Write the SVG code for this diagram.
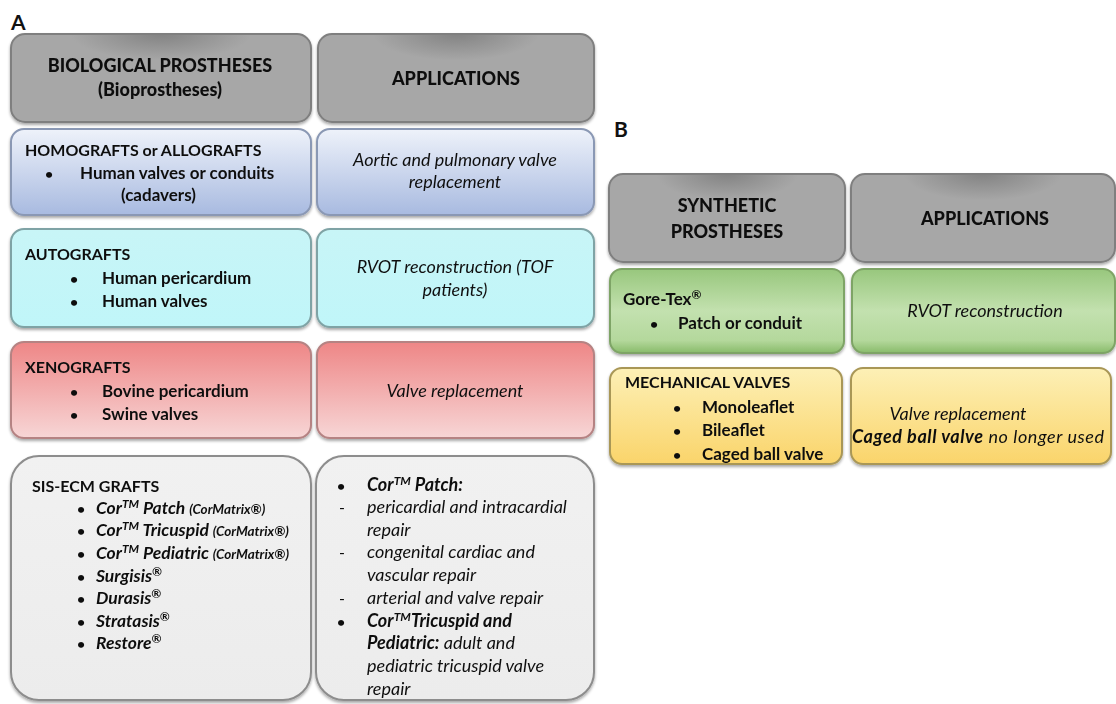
<svg xmlns="http://www.w3.org/2000/svg" width="1116" height="704" viewBox="0 0 1116 704">
<defs>
<radialGradient id="gHead" cx="0.5" cy="0" r="0.3" fx="0.5" fy="0">
<stop offset="0" stop-color="#838383"/><stop offset="0.55" stop-color="#979797"/><stop offset="1" stop-color="#a7a7a7"/>
</radialGradient>
<linearGradient id="gBlue" x1="0" y1="0" x2="0" y2="1">
<stop offset="0" stop-color="#eef2fa"/><stop offset="1" stop-color="#a8bae0"/>
</linearGradient>
<linearGradient id="gCyan" x1="0" y1="0" x2="0" y2="1">
<stop offset="0" stop-color="#c8f5f7"/><stop offset="1" stop-color="#c0f6f9"/>
</linearGradient>
<linearGradient id="gRed" x1="0" y1="0" x2="0" y2="1">
<stop offset="0" stop-color="#ee8686"/><stop offset="1" stop-color="#f7d6d6"/>
</linearGradient>
<linearGradient id="gGray" x1="0" y1="0" x2="0" y2="1">
<stop offset="0" stop-color="#f1f1f1"/><stop offset="1" stop-color="#ececec"/>
</linearGradient>
<linearGradient id="gGreen" x1="0" y1="0" x2="0" y2="1">
<stop offset="0" stop-color="#98c77d"/><stop offset="0.5" stop-color="#c3e1af"/><stop offset="0.85" stop-color="#b4d89c"/><stop offset="1" stop-color="#88bb6a"/>
</linearGradient>
<linearGradient id="gYellow" x1="0" y1="0" x2="0" y2="1">
<stop offset="0" stop-color="#fdf0b6"/><stop offset="1" stop-color="#fad46a"/>
</linearGradient>
<filter id="sh" x="-5%" y="-5%" width="110%" height="115%">
<feGaussianBlur in="SourceAlpha" stdDeviation="1.5"/><feOffset dx="0" dy="2" result="b"/>
<feComponentTransfer><feFuncA type="linear" slope="0.35"/></feComponentTransfer>
<feMerge><feMergeNode/><feMergeNode in="SourceGraphic"/></feMerge>
</filter>
</defs>
<style>
text{font-family:Lato,"Open Sans","Liberation Sans",sans-serif;fill:#111;}
.b{font-weight:bold;font-size:16px;}
.bl2{font-weight:bold;font-size:17px;}
.h{font-weight:900;font-size:18px;text-anchor:middle;}
.i{font-style:italic;font-size:18px;}
.c{text-anchor:middle;}
.bi{font-weight:bold;font-style:italic;font-size:17.5px;}
.bi2{font-weight:bold;font-style:italic;font-size:18px;}
.sm{font-size:13.5px;}
.sup{font-size:12px;}
.bu{font-weight:bold;font-size:14px;text-anchor:middle;}
.da{font-size:16px;text-anchor:middle;}
.lab{font-weight:bold;font-size:21px;}
.hd{fill:url(#gHead);stroke:#7f7f7f;stroke-width:2;}
.bl{fill:url(#gBlue);stroke:#8a98b4;stroke-width:2;}
.cy{fill:url(#gCyan);stroke:#7fa3a5;stroke-width:2;}
.rd{fill:url(#gRed);stroke:#b58383;stroke-width:2;}
.gy{fill:url(#gGray);stroke:#8d8d8d;stroke-width:2;}
.gr{fill:url(#gGreen);stroke:#7ea466;stroke-width:2;}
.ye{fill:url(#gYellow);stroke:#a99757;stroke-width:2;}
</style>

<text class="lab" x="11" y="30">A</text>
<text class="lab" x="614" y="137">B</text>

<g id="a-head-bio" filter="url(#sh)">
<rect class="hd" x="11" y="34" width="300" height="88" rx="14"/>
<text class="h" x="160" y="72">BIOLOGICAL PROSTHESES</text>
<text class="h" x="160" y="96">(Bioprostheses)</text>
</g>
<g id="a-head-app" filter="url(#sh)">
<rect class="hd" x="318" y="34" width="276" height="88" rx="14"/>
<text class="h" x="456" y="85">APPLICATIONS</text>
</g>

<g id="a-homografts" filter="url(#sh)">
<rect class="bl" x="11" y="129" width="300" height="86" rx="13"/>
<text class="b" x="25" y="156">HOMOGRAFTS or ALLOGRAFTS</text>
<text class="bu" x="49" y="179">•</text>
<text class="bl2" x="80" y="179">Human valves or conduits</text>
<text class="bl2" x="121" y="201">(cadavers)</text>
</g>
<g id="a-homografts-app" filter="url(#sh)">
<rect class="bl" x="317" y="129" width="277" height="86" rx="13"/>
<text class="i c" x="455" y="166">Aortic and pulmonary valve</text>
<text class="i c" x="455" y="188">replacement</text>
</g>

<g id="a-autografts" filter="url(#sh)">
<rect class="cy" x="11" y="229" width="300" height="98" rx="13"/>
<text class="b" x="25" y="260">AUTOGRAFTS</text>
<text class="bu" x="74" y="284">•</text>
<text class="bl2" x="102" y="284">Human pericardium</text>
<text class="bu" x="74" y="307">•</text>
<text class="bl2" x="102" y="307">Human valves</text>
</g>
<g id="a-autografts-app" filter="url(#sh)">
<rect class="cy" x="317" y="229" width="277" height="98" rx="13"/>
<text class="i c" x="455" y="273">RVOT reconstruction (TOF</text>
<text class="i c" x="455" y="296">patients)</text>
</g>

<g id="a-xenografts" filter="url(#sh)">
<rect class="rd" x="11" y="342" width="300" height="96" rx="13"/>
<text class="b" x="25" y="373">XENOGRAFTS</text>
<text class="bu" x="74" y="397">•</text>
<text class="bl2" x="102" y="397">Bovine pericardium</text>
<text class="bu" x="74" y="420">•</text>
<text class="bl2" x="102" y="420">Swine valves</text>
</g>
<g id="a-xenografts-app" filter="url(#sh)">
<rect class="rd" x="317" y="342" width="277" height="96" rx="13"/>
<text class="i c" x="455" y="397">Valve replacement</text>
</g>

<g id="a-sis" filter="url(#sh)">
<rect class="gy" x="11" y="456" width="300" height="244" rx="28"/>
<text class="b" x="32" y="492">SIS-ECM GRAFTS</text>
<text class="bu" x="81" y="514">•</text>
<text class="bi" x="96" y="514">Cor<tspan class="sup" dy="-6">TM</tspan><tspan dy="6"> Patch </tspan><tspan class="sm">(CorMatrix®)</tspan></text>
<text class="bu" x="81" y="536">•</text>
<text class="bi" x="96" y="536">Cor<tspan class="sup" dy="-6">TM</tspan><tspan dy="6"> Tricuspid </tspan><tspan class="sm">(CorMatrix®)</tspan></text>
<text class="bu" x="81" y="559">•</text>
<text class="bi" x="96" y="559">Cor<tspan class="sup" dy="-6">TM</tspan><tspan dy="6"> Pediatric </tspan><tspan class="sm">(CorMatrix®)</tspan></text>
<text class="bu" x="81" y="582">•</text>
<text class="bi" x="96" y="582">Surgisis<tspan class="sup" dy="-6">®</tspan></text>
<text class="bu" x="81" y="604">•</text>
<text class="bi" x="96" y="604">Durasis<tspan class="sup" dy="-6">®</tspan></text>
<text class="bu" x="81" y="627">•</text>
<text class="bi" x="96" y="627">Stratasis<tspan class="sup" dy="-6">®</tspan></text>
<text class="bu" x="81" y="649">•</text>
<text class="bi" x="96" y="649">Restore<tspan class="sup" dy="-6">®</tspan></text>
</g>
<g id="a-sis-app" filter="url(#sh)">
<rect class="gy" x="316" y="456" width="278" height="244" rx="28"/>
<text class="bu" x="341" y="491">•</text>
<text class="bi2" x="367" y="491">Cor<tspan class="sup" dy="-6">TM</tspan><tspan dy="6"> Patch:</tspan></text>
<text class="da" x="342" y="513">-</text>
<text class="i" x="367" y="513">pericardial and intracardial</text>
<text class="i" x="367" y="536">repair</text>
<text class="da" x="342" y="558">-</text>
<text class="i" x="367" y="558">congenital cardiac and</text>
<text class="i" x="367" y="581">vascular repair</text>
<text class="da" x="342" y="604">-</text>
<text class="i" x="367" y="604">arterial and valve repair</text>
<text class="bu" x="341" y="627">•</text>
<text class="bi2" x="367" y="627">Cor<tspan class="sup" dy="-6">TM</tspan><tspan dy="6">Tricuspid and</tspan></text>
<text class="i" x="367" y="649"><tspan class="bi2">Pediatric:</tspan> adult and</text>
<text class="i" x="367" y="672">pediatric tricuspid valve</text>
<text class="i" x="367" y="695">repair</text>
</g>

<g id="b-head-syn" filter="url(#sh)">
<rect class="hd" x="609" y="174" width="236" height="88" rx="14"/>
<text class="h" x="727" y="212">SYNTHETIC</text>
<text class="h" x="727" y="238">PROSTHESES</text>
</g>
<g id="b-head-app" filter="url(#sh)">
<rect class="hd" x="851" y="174" width="264" height="88" rx="14"/>
<text class="h" x="985" y="225">APPLICATIONS</text>
</g>

<g id="b-goretex" filter="url(#sh)">
<rect class="gr" x="610" y="269" width="234" height="84" rx="12"/>
<text class="bl2" x="623" y="305">Gore-Tex<tspan class="sup" dy="-6">®</tspan></text>
<text class="bu" x="654" y="329">•</text>
<text class="bl2" x="678" y="329">Patch or conduit</text>
</g>
<g id="b-goretex-app" filter="url(#sh)">
<rect class="gr" x="852" y="269" width="263" height="84" rx="12"/>
<text class="i c" x="985" y="317">RVOT reconstruction</text>
</g>

<g id="b-mechanical" filter="url(#sh)">
<rect class="ye" x="610" y="368" width="232" height="96" rx="12"/>
<text class="b" x="625" y="388">MECHANICAL VALVES</text>
<text class="bu" x="677" y="413">•</text>
<text class="bl2" x="702" y="413">Monoleaflet</text>
<text class="bu" x="677" y="436">•</text>
<text class="bl2" x="702" y="436">Bileaflet</text>
<text class="bu" x="677" y="460">•</text>
<text class="bl2" x="702" y="460">Caged ball valve</text>
</g>
<g id="b-mechanical-app" filter="url(#sh)">
<rect class="ye" x="851" y="368" width="260" height="96" rx="12"/>
<text class="i c" x="958" y="420">Valve replacement</text>
<text class="i c" x="978" y="443" textLength="252" lengthAdjust="spacing"><tspan class="bi2">Caged ball valve</tspan> no longer used</text>
</g>
</svg>
